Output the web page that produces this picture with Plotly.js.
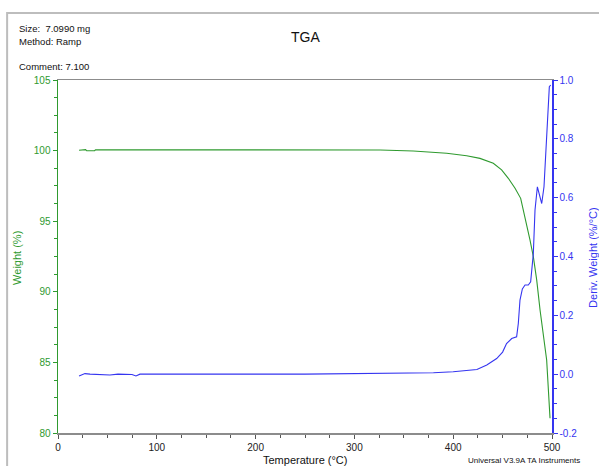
<!DOCTYPE html>
<html>
<head>
<meta charset="utf-8">
<script src="https://cdn.plot.ly/plotly-3.0.1.min.js"></script>
<style>html,body{margin:0;padding:0;background:#fff;}#chart{width:599px;height:466px;}</style>
</head>
<body>
<div id="chart"></div>
<script>
// Weight curve (green, left axis)
const weightTemp = [21.3, 28, 29, 37, 38, 50, 100, 150, 200, 250, 300, 326, 359.6, 393.4, 413.6, 427.1, 440.6, 449, 455.8, 462.6, 468.3, 472.7, 477.7, 481.1, 484.5, 487.9, 491.2, 494.6, 498];
const weightPct  = [100.03, 100.07, 99.99, 99.99, 100.06, 100.06, 100.06, 100.06, 100.06, 100.06, 100.05, 100.04, 99.97, 99.81, 99.64, 99.45, 99.1, 98.63, 98.04, 97.33, 96.62, 95.32, 93.67, 92.49, 90.84, 88.71, 87.06, 85.17, 81.04];

// Derivative curve (blue, right axis)
const derivTemp = [21.3, 27.3, 32.4, 42.5, 52.6, 60.7, 74.9, 78.9, 83, 100, 150, 200, 250, 300, 346, 380, 400, 415, 424, 434, 444, 450, 454, 459.2, 464.2, 465.9, 467.6, 470, 472.7, 476, 478.4, 481.1, 482.8, 485.2, 487.2, 489.6, 491.9, 494.6, 497.3, 498.7];
const derivVal  = [-0.006, 0.002, 0.0, -0.001, -0.003, 0.0, -0.001, -0.006, 0.0, 0.0, 0.001, 0.0, 0.0, 0.001, 0.002, 0.005, 0.008, 0.012, 0.016, 0.031, 0.053, 0.075, 0.104, 0.121, 0.127, 0.172, 0.252, 0.29, 0.303, 0.303, 0.314, 0.41, 0.558, 0.637, 0.615, 0.58, 0.637, 0.83, 0.977, 0.983];

const xTicks = [0, 100, 200, 300, 400, 500];
const yTicks = [80, 85, 90, 95, 100, 105];
const y2Ticks = [-0.2, 0.0, 0.2, 0.4, 0.6, 0.8, 1.0];
const y2TickText = ["-0.2", "0.0", "0.2", "0.4", "0.6", "0.8", "1.0"];

const GREEN = '#2f9a2f';
const BLUE = '#3535f0';
const FONT = 'Liberation Sans, Arial, sans-serif';

const traces = [
  {x: weightTemp, y: weightPct, type: 'scatter', mode: 'lines', line: {color: GREEN, width: 1.1}, yaxis: 'y', hoverinfo: 'skip'},
  {x: derivTemp, y: derivVal, type: 'scatter', mode: 'lines', line: {color: BLUE, width: 1.1}, yaxis: 'y2', hoverinfo: 'skip'}
];

const layout = {
  width: 599, height: 466,
  margin: {l: 58, r: 47, t: 80, b: 33, pad: 0},
  paper_bgcolor: '#fff', plot_bgcolor: '#fff',
  showlegend: false,
  font: {family: FONT, size: 10, color: '#222'},
  xaxis: {
    range: [0, 500], tickvals: xTicks, ticktext: xTicks.map(String),
    showgrid: false, zeroline: false,
    showline: true, linecolor: '#8c8c8c', linewidth: 1.5, mirror: true,
    ticks: 'outside', ticklen: 4, tickcolor: '#555', tickfont: {size: 10, color: '#222'},
    minor: {dtick: 25, ticks: 'outside', ticklen: 3, tickcolor: '#555', showgrid: false}
  },
  yaxis: {
    range: [80, 105], tickvals: yTicks, ticktext: yTicks.map(String),
    showgrid: false, zeroline: false,
    showline: true, linecolor: GREEN, linewidth: 1.5,
    ticks: 'outside', ticklen: 4, tickcolor: GREEN, tickfont: {size: 10, color: GREEN},
    minor: {dtick: 1.25, tick0: 80, ticks: 'outside', ticklen: 3, tickcolor: GREEN, showgrid: false}
  },
  yaxis2: {
    range: [-0.2, 1.0], overlaying: 'y', side: 'right',
    tickvals: y2Ticks, ticktext: y2TickText,
    showgrid: false, zeroline: false,
    showline: true, linecolor: BLUE, linewidth: 1.5,
    ticks: 'outside', ticklen: 4, tickcolor: BLUE, tickfont: {size: 10, color: BLUE},
    minor: {dtick: 0.05, tick0: -0.2, ticks: 'outside', ticklen: 3, tickcolor: BLUE, showgrid: false}
  },
  shapes: [
    {type: 'rect', xref: 'paper', yref: 'paper', x0: -0.103, x1: 1.3, y0: -0.3, y1: 1.19,
     line: {color: '#bdbdbd', width: 2}, fillcolor: 'rgba(0,0,0,0)', layer: 'below'}
  ],
  annotations: [
    {text: 'TGA', xref: 'paper', yref: 'paper', x: 0.5, y: 1.122, xanchor: 'center', yanchor: 'middle', showarrow: false, font: {size: 14, color: '#111'}},
    {text: 'Size:  7.0990 mg', xref: 'paper', yref: 'paper', x: -0.083, y: 1.147, xanchor: 'left', yanchor: 'middle', showarrow: false, font: {size: 9.5, color: '#111'}},
    {text: 'Method: Ramp', xref: 'paper', yref: 'paper', x: -0.083, y: 1.110, xanchor: 'left', yanchor: 'middle', showarrow: false, font: {size: 9.5, color: '#111'}},
    {text: 'Comment: 7.100', xref: 'paper', yref: 'paper', x: -0.083, y: 1.037, xanchor: 'left', yanchor: 'middle', showarrow: false, font: {size: 9.5, color: '#111'}},
    {text: 'Weight (%)', xref: 'paper', yref: 'paper', x: -0.083, y: 0.496, xanchor: 'center', yanchor: 'middle', textangle: -90, showarrow: false, font: {size: 11, color: GREEN}},
    {text: 'Deriv. Weight (%/°C)', xref: 'paper', yref: 'paper', x: 1.083, y: 0.496, xanchor: 'center', yanchor: 'middle', textangle: -90, showarrow: false, font: {size: 11, color: BLUE}},
    {text: 'Temperature (°C)', xref: 'paper', yref: 'paper', x: 0.5, y: -0.077, xanchor: 'center', yanchor: 'middle', showarrow: false, font: {size: 11, color: '#111'}},
    {text: 'Universal V3.9A TA Instruments', xref: 'paper', yref: 'paper', x: 0.826, y: -0.077, xanchor: 'left', yanchor: 'middle', showarrow: false, font: {size: 8, color: '#111'}}
  ]
};

Plotly.newPlot('chart', traces, layout, {staticPlot: true, displayModeBar: false});
</script>
</body>
</html>
